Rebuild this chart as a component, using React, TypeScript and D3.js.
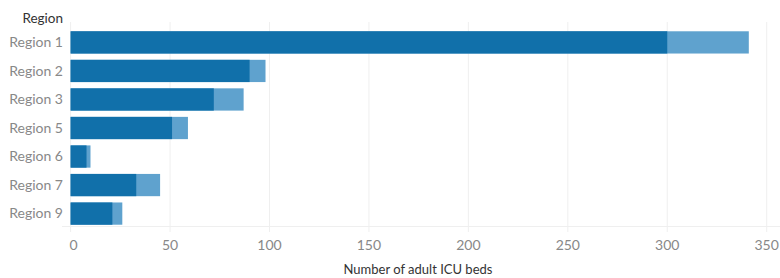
import React from "react";
import * as d3 from "d3";

const regions = ["Region 1", "Region 2", "Region 3", "Region 5", "Region 6", "Region 7", "Region 9"];
const occupied = [300, 90, 72, 51, 8, 33, 21];
const total = [341, 98, 87, 59, 10, 45, 26];
const ticks = [0, 50, 100, 150, 200, 250, 300, 350];

const W = 780, H = 278;
const font = "Lato, 'Open Sans', sans-serif";

export default function App() {
  const x = d3.scaleLinear().domain([0, 350]).range([70.6, 766.7]);
  const y = d3.scaleBand<string>().domain(regions).range([27, 229]).paddingInner(0.22).paddingOuter(0.15);

  return (
    <svg width={W} height={H} style={{ position: "absolute", left: 0, top: 0, background: "#fff" }}>
      {/* grid */}
      {ticks.map((t) => (
        <line key={t} x1={x(t)} x2={x(t)} y1={22} y2={232} stroke="#efefef" strokeWidth={1} />
      ))}
      <line x1={62} x2={W} y1={226.5} y2={226.5} stroke="#efefef" />

      {/* bars */}
      {regions.map((r, i) => (
        <g key={r}>
          <rect x={x(0)} y={y(r)} width={x(total[i]) - x(0)} height={y.bandwidth()} fill="#5fa2ce" />
          <rect x={x(0)} y={y(r)} width={x(occupied[i]) - x(0)} height={y.bandwidth()} fill="#1170aa" />
          <text x={63} y={(y(r) as number) + y.bandwidth() / 2} dy="0.35em" textAnchor="end"
            fontFamily={font} fontSize={14} fill="#888">{r}</text>
        </g>
      ))}

      <text x={63} y={23} textAnchor="end" fontFamily={font} fontSize={13.5} fill="#333">Region</text>

      {ticks.map((t) => (
        <text key={t} x={x(t) + (t === 0 ? 3 : 0)} y={245} dy="0.35em" textAnchor="middle"
          fontFamily={font} fontSize={14} fill="#888">{t}</text>
      ))}

      <text x={418} y={274} textAnchor="middle" fontFamily={font} fontSize={13} fill="#333">
        Number of adult ICU beds
      </text>
    </svg>
  );
}
